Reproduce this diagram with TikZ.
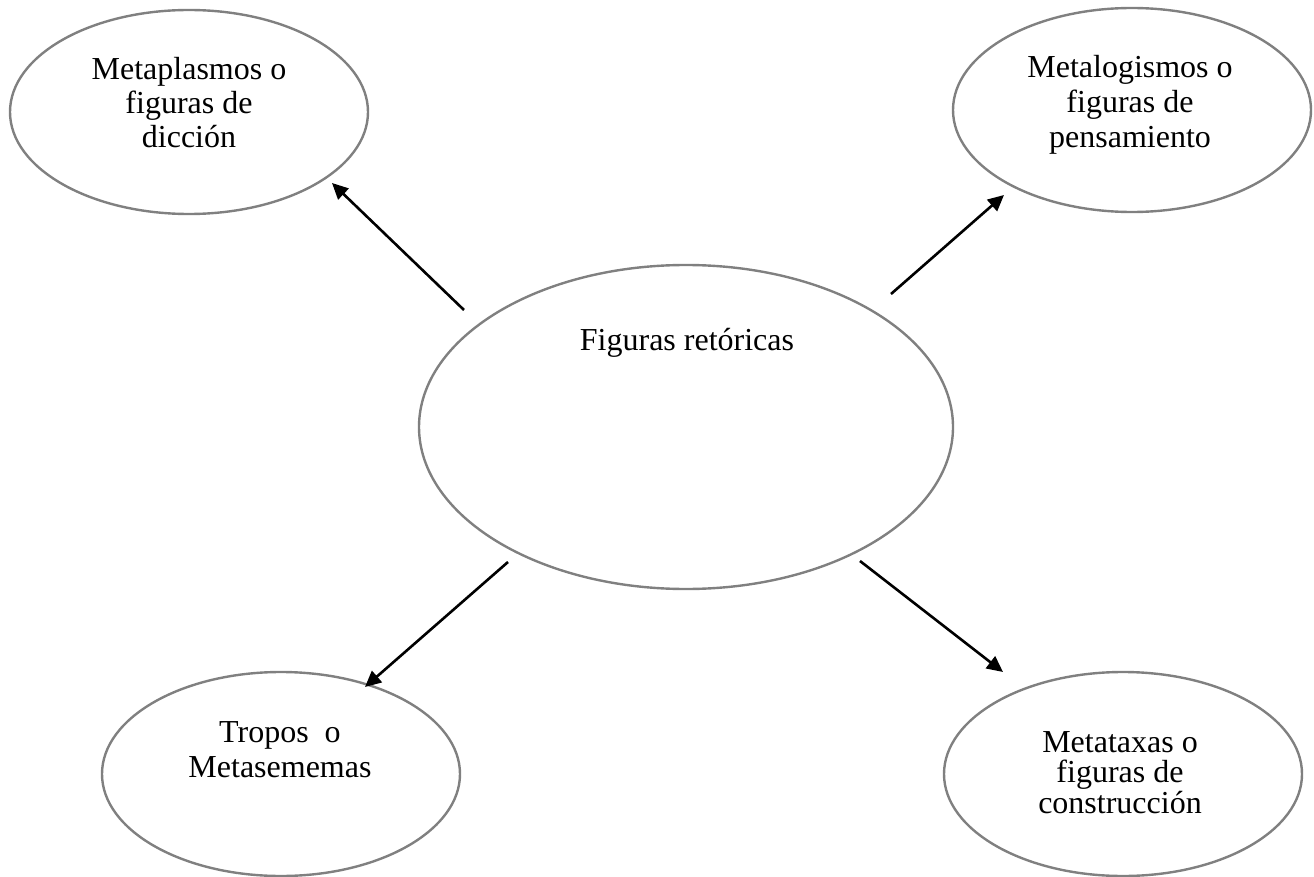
\documentclass[tikz,border=0pt]{standalone}
\usepackage{fontspec}
\setmainfont{Liberation Serif}
\usetikzlibrary{shapes.geometric,arrows.meta}
\definecolor{ellgray}{RGB}{128,128,128}
\begin{document}
\begin{tikzpicture}[x=1pt,y=-1pt,
  bubble/.style={ellipse, draw=ellgray, line width=2.4pt, inner sep=0pt},
  smallbubble/.style={bubble, minimum width=358pt, minimum height=204pt},
  lbl/.style={anchor=base, inner sep=0pt, font=\fontsize{32}{38}\selectfont},
  conn/.style={line width=2.6pt, -{Triangle[length=16pt,width=15pt]}}]
\useasboundingbox (0,0) rectangle (1314,877);

% ellipses
\node[smallbubble] (tl) at (189,112) {};
\node[smallbubble] (tr) at (1132,110) {};
\node[bubble, minimum width=534pt, minimum height=324pt] (fr) at (686,427) {};
\node[smallbubble] (bl) at (281,774) {};
\node[smallbubble] (br) at (1123,774) {};

% labels
\node[lbl] (tl1) at (189,80) {Metaplasmos o};
\node[lbl] (tl2) at (189,114) {figuras de};
\node[lbl] (tl3) at (189,148) {dicción};

\node[lbl] (tr1) at (1130,78) {Metalogismos o};
\node[lbl] (tr2) at (1130,113) {figuras de};
\node[lbl] (tr3) at (1130,148) {pensamiento};

\node[lbl] (fr1) at (687,350) {Figuras retóricas};

\node[lbl] (bl1) at (280,742) {Tropos~~o};
\node[lbl] (bl2) at (280,777) {Metasememas};

\node[lbl] (br1) at (1120,752) {Metataxas o};
\node[lbl] (br2) at (1120,782) {figuras de};
\node[lbl] (br3) at (1120,813) {construcción};

% arrow end points
\coordinate (s1) at (464,310);
\coordinate (e1) at (332,183);
\coordinate (s2) at (891,294);
\coordinate (e2) at (1004,195);
\coordinate (s3) at (508,562);
\coordinate (e3) at (365,687);
\coordinate (s4) at (860,561);
\coordinate (e4) at (1003,672);

\draw[conn] (s1) -- (e1);
\draw[conn] (s2) -- (e2);
\draw[conn] (s3) -- (e3);
\draw[conn] (s4) -- (e4);
\end{tikzpicture}
\end{document}
